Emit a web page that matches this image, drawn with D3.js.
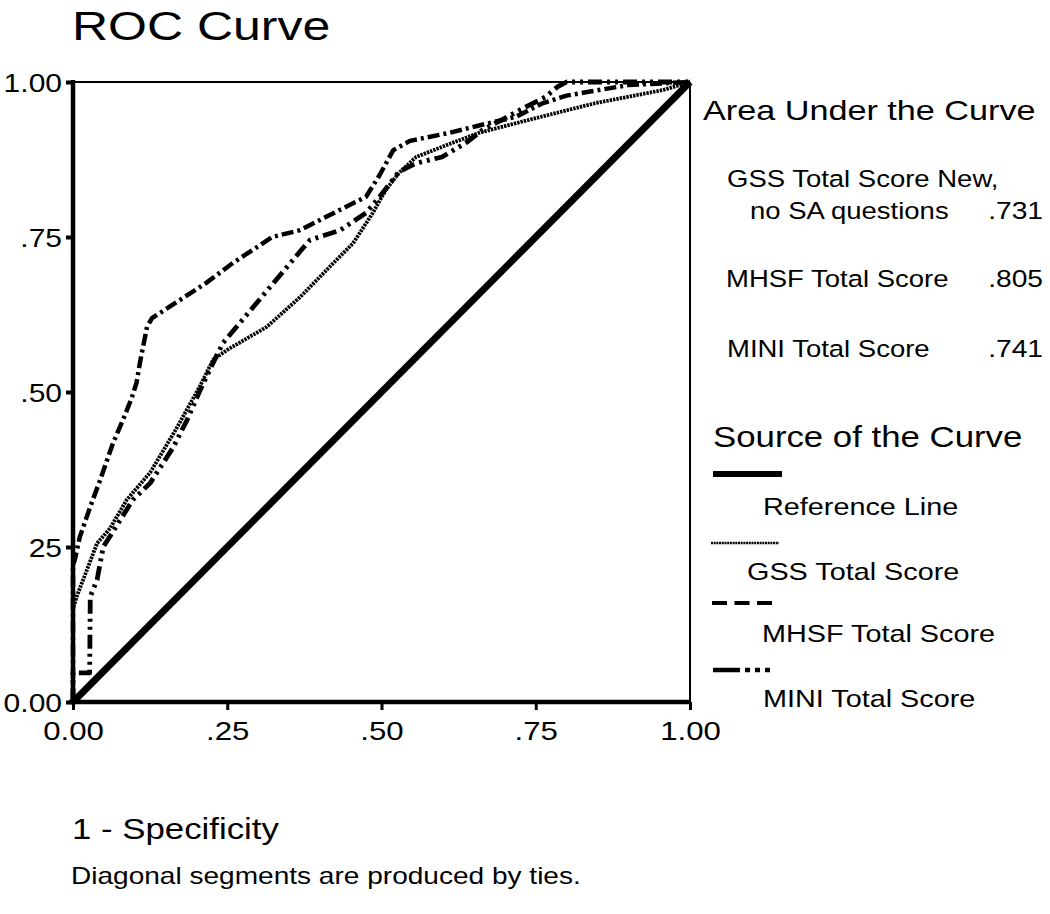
<!DOCTYPE html>
<html>
<head>
<meta charset="utf-8">
<script src="https://cdn.jsdelivr.net/npm/d3@7"></script>
<style>
  body { margin: 0; background: #fff; }
  svg text { font-family: "Liberation Sans", Arial, sans-serif; fill: #000; }
</style>
</head>
<body>
<div id="chart"></div>
<script>
// ROC points as [1 - specificity, sensitivity]
const reference = [[0, 0], [1, 1]];
const gss = [[0, 0], [0, 0.15], [0.006, 0.17], [0.039, 0.256], [0.06, 0.28], [0.087, 0.326],
  [0.125, 0.37], [0.167, 0.44], [0.206, 0.51], [0.227, 0.552], [0.25, 0.568], [0.314, 0.605],
  [0.368, 0.653], [0.422, 0.708], [0.454, 0.74], [0.486, 0.789], [0.507, 0.826], [0.528, 0.853],
  [0.556, 0.879], [0.61, 0.9], [0.658, 0.918], [0.739, 0.939], [0.847, 0.966], [0.956, 0.987], [1, 1]];
const mhsf = [[0, 0], [0, 0.22], [0.003, 0.23], [0.011, 0.266], [0.028, 0.315], [0.044, 0.358],
  [0.065, 0.418], [0.081, 0.455], [0.095, 0.49], [0.103, 0.515], [0.109, 0.55], [0.12, 0.605],
  [0.128, 0.619], [0.216, 0.676], [0.259, 0.708], [0.323, 0.75], [0.368, 0.761], [0.433, 0.794],
  [0.475, 0.815], [0.497, 0.85], [0.519, 0.89], [0.546, 0.905], [0.61, 0.918], [0.663, 0.931],
  [0.718, 0.944], [0.762, 0.966], [0.8, 0.978], [0.84, 0.985], [0.9, 0.995], [1, 1]];
const mini = [[0, 0], [0, 0.047], [0.027, 0.047], [0.028, 0.17], [0.039, 0.197], [0.049, 0.25],
  [0.097, 0.326], [0.125, 0.353], [0.162, 0.41], [0.185, 0.455], [0.206, 0.503], [0.227, 0.547],
  [0.243, 0.579], [0.37, 0.729], [0.384, 0.745], [0.433, 0.761], [0.475, 0.789], [0.497, 0.815],
  [0.514, 0.837], [0.528, 0.855], [0.556, 0.869], [0.598, 0.879], [0.637, 0.902], [0.663, 0.922],
  [0.695, 0.939], [0.734, 0.96], [0.766, 0.976], [0.785, 0.992], [0.8, 1], [1, 1]];

const ticks = [0, 0.25, 0.5, 0.75, 1];
const xTickLabels = ['0.00', '.25', '.50', '.75', '1.00'];
const yTickLabels = ['0.00', '25', '.50', '.75', '1.00'];

const aucNames = [['GSS Total Score New,', 'no SA questions'], ['MHSF Total Score'], ['MINI Total Score']];
const aucValues = ['.731', '.805', '.741'];
const sourceNames = ['Reference Line', 'GSS Total Score', 'MHSF Total Score', 'MINI Total Score'];

const W = 1050, H = 914;
const SX = 1.2; // the lettering in the original is a bit wider than Arial

const svg = d3.select('#chart').append('svg')
  .attr('width', W).attr('height', H)
  .attr('viewBox', `0 0 ${W} ${H}`);

const x = d3.scaleLinear().domain([0, 1]).range([73, 690]);
const y = d3.scaleLinear().domain([0, 1]).range([702, 82]);

function label(str, tx, ty, size, anchor = 'start', sx = SX) {
  return svg.append('text')
    .attr('transform', `translate(${tx},${ty}) scale(${sx},1)`)
    .attr('font-size', size)
    .attr('text-anchor', anchor)
    .text(str);
}

// line styles: curves and legend samples
const styles = [
  { data: reference, width: 7, dash: null, key: [6, null] },
  { data: gss, width: 3.8, dash: '2.4,1', key: [2.5, '2,0.7'] },
  { data: mhsf, width: 4.5, dash: '12,4,3,4', key: [4, '15,7.5'] },
  { data: mini, width: 4.8, dash: '14,5,3,5,3,5', key: [4.5, '27,5,5,5,5,5,5'] }
];

const line = d3.line().x(d => x(d[0])).y(d => y(d[1]));

// frame (thin top / right)
svg.append('line').attr('x1', x(0)).attr('x2', x(1)).attr('y1', y(1)).attr('y2', y(1))
  .attr('stroke', '#000').attr('stroke-width', 2);
svg.append('line').attr('x1', x(1)).attr('x2', x(1)).attr('y1', y(1)).attr('y2', y(0))
  .attr('stroke', '#000').attr('stroke-width', 2);

styles.forEach(s => {
  svg.append('path')
    .attr('d', line(s.data))
    .attr('fill', 'none')
    .attr('stroke', '#000')
    .attr('stroke-width', s.width)
    .attr('stroke-dasharray', s.dash)
    .attr('stroke-linejoin', 'round');
});

// axes
const yAxis = svg.append('g')
  .attr('transform', `translate(${x(0)},0)`)
  .call(d3.axisLeft(y).tickValues(ticks).tickFormat((d, i) => yTickLabels[i])
    .tickSize(7).tickSizeOuter(0));
yAxis.select('.domain').attr('stroke-width', 4.5).attr('d', `M0,${y(1) - 2}V${y(0) + 2}`);
yAxis.selectAll('.tick line').attr('stroke-width', 4);
yAxis.selectAll('.tick text')
  .attr('font-size', 25).attr('fill', '#000')
  .attr('x', -11 / SX).attr('dy', '0.36em')
  .attr('transform', `scale(${SX},1)`);

const xAxis = svg.append('g')
  .attr('transform', `translate(0,${y(0)})`)
  .call(d3.axisBottom(x).tickValues(ticks).tickFormat((d, i) => xTickLabels[i])
    .tickSize(8).tickPadding(12).tickSizeOuter(0));
xAxis.select('.domain').attr('stroke-width', 4.5).attr('d', `M${x(0) - 4},0H${x(1) + 1}`);
xAxis.selectAll('.tick line').attr('stroke-width', 3);
xAxis.selectAll('.tick text')
  .attr('font-size', 26).attr('fill', '#000')
  .attr('transform', `scale(${SX},1)`)
  .attr('x', 0);
xAxis.selectAll('.tick').each(function () {
  const t = d3.select(this);
  const tx = +t.attr('transform').match(/translate\(([-\d.]+)/)[1];
  t.attr('transform', `translate(${tx},0)`);
});

// titles
label('ROC Curve', 72, 40, 40, 'start', 1.25);
label('1 - Specificity', 72, 839, 29);
label('Diagonal segments are produced by ties.', 71, 884, 23, 'start', 1.22);

// area under the curve table
label('Area Under the Curve', 703, 120, 28.5);
const aucRows = [[187, 219], [287], [357]];
const aucX = [[727, 750], [726], [727]];
aucNames.forEach((names, i) => {
  names.forEach((n, j) => label(n, aucX[i][j], aucRows[i][j], 23.5, 'start', 1.17));
  label(aucValues[i], 1043, aucRows[i][names.length - 1], 23.5, 'end');
});

// source of the curve legend
label('Source of the Curve', 713, 447, 29);
const keyY = [474, 543, 603, 670];
const keyX = [[713, 782], [711, 779], [712, 774], [713, 775]];
const nameX = [763, 747, 762, 763];
const nameY = [515, 580, 642, 707];
styles.forEach((s, i) => {
  svg.append('line')
    .attr('x1', keyX[i][0]).attr('x2', keyX[i][1])
    .attr('y1', keyY[i]).attr('y2', keyY[i])
    .attr('stroke', '#000')
    .attr('stroke-width', s.key[0])
    .attr('stroke-dasharray', s.key[1]);
  label(sourceNames[i], nameX[i], nameY[i], 24);
});
</script>
</body>
</html>
